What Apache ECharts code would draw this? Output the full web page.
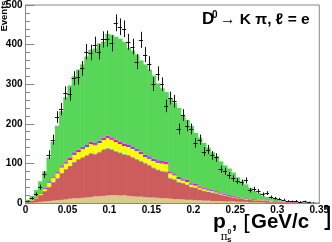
<!DOCTYPE html>
<html><head><meta charset="utf-8">
<script src="https://cdn.jsdelivr.net/npm/echarts@6/dist/echarts.min.js"></script>
<style>html,body{margin:0;padding:0;background:#fff}#c{width:332px;height:242px}</style>
</head><body><div id="c"></div>
<script>
const binWidth = 0.005;
const xTickLabels = ['0','0.05','0.1','0.15','0.2','0.25','0.3','0.35'];
const yTickLabels = ['0','100','200','300','400','500'];
const tan = [0,1,2,3,4,5,6,7,8,9, 11,12,12,13,14,15,17,17,18,19, 20,20,19,20,18,17,16,16,15,14, 14,13,12,12,11,10,10,9,8,8, 7,7,6,6,5,5,5,4,4,4, 3,3,3,2,2,2,2,1,1,1, 1,1,1,0,0,0,0,0,0,0];
const red = [2,5,10,17,26,35,46,55,67,76, 82,91,98,102,106,110,106,111,116,118, 115,110,107,102,102,98,94,89,85,81, 74,70,68,66,51,48,42,41,38,32, 31,27,24,22,21,19,16,14,12,10, 9,8,6,6,5,5,4,4,3,3, 2,2,1,2,1,1,1,0,0,0];
const cyan = [0,0,0,0,0,1,1,1,1,1, 1,1,1,1,2,2,2,2,2,2, 2,2,2,2,2,2,2,2,2,2, 2,2,2,2,2,2,1,1,1,1, 1,1,1,1,1,1,1,1,0,0, 0,0,0,0,0,0,0,0,0,0, 0,0,0,0,0,0,0,0,0,0];
const yellow = [1,1,2,3,5,10,10,12,14,14, 15,18,18,20,20,22,21,22,23,25, 23,22,21,20,20,20,19,17,14,15, 16,17,18,18,11,10,8,6,6,5, 5,3,4,3,3,2,2,1,1,1, 1,1,1,1,1,1,1,1,1,0, 0,1,0,1,0,1,0,0,0,0];
const blue = [0,0,1,1,1,1,1,2,2,2, 2,2,2,2,2,2,2,2,2,2, 2,2,2,2,2,2,2,2,2,2, 2,2,2,2,2,2,2,2,2,1, 1,1,1,1,1,1,1,1,1,1, 1,1,1,1,1,0,0,0,0,0, 0,0,0,0,0,0,0,0,0,0];
const magenta = [0,1,1,1,2,3,3,3,3,3, 4,4,4,4,4,4,4,4,4,4, 4,4,4,4,4,4,4,4,4,4, 4,4,4,4,3,3,3,3,3,3, 3,3,2,2,2,2,2,2,2,2, 2,1,1,1,1,1,1,1,1,1, 1,0,1,0,1,0,0,1,0,0];
const green = [5,10,17,30,42,60,88,115,137,162, 182,192,202,208,222,232,238,245,242,257, 259,260,260,257,244,242,238,230,228,219, 210,194,184,176,185,178,174,158,152,145, 129,123,114,105,95,88,78,72,67,59, 49,41,35,27,20,16,10,8,6,5, 3,1,1,0,1,0,1,0,1,0];
const dataCounts = [4,12,22,40,72,122,160,217,237,278, 275,315,317,340,382,380,400,382,413,415, 403,455,445,440,407,395,357,412,375,352, 300,327,300,245,265,257,187,222,195,187, 152,160,130,135,120,115,85,80,70,62, 55,52,57,32,35,30,22,25,15,12, 10,8,5,4,5,3,4,2,1,0];

const components = [
  {name:'tan', values: tan, color:'#d9c98d'},
  {name:'red', values: red, color:'#cd5c5c'},
  {name:'cyan', values: cyan, color:'#3fbfbf'},
  {name:'yellow', values: yellow, color:'#ffff00'},
  {name:'blue', values: blue, color:'#2828c8'},
  {name:'magenta', values: magenta, color:'#ff00ff'},
  {name:'green', values: green, color:'#58d658'}
];

const nBins = tan.length;
const base = new Array(nBins).fill(0);
const series = [];
components.forEach(c => {
  const d = c.values.map((v, i) => {
    const item = [i*binWidth, (i+1)*binWidth, base[i], base[i] + v];
    base[i] += v;
    return item;
  });
  series.push({
    type:'custom', name:c.name, silent:true, clip:true, animation:false,
    encode:{x:[0,1], y:[2,3]},
    data:d,
    renderItem:(params, api) => {
      if (api.value(3) <= api.value(2)) return null;
      const p0 = api.coord([api.value(0), api.value(2)]);
      const p1 = api.coord([api.value(1), api.value(3)]);
      return {type:'rect', shape:{x:p0[0], y:p1[1], width:p1[0]-p0[0]+0.6, height:p0[1]-p1[1]},
        style:{fill:c.color}};
    }
  });
});

const pts = [];
dataCounts.forEach((v, i) => { if (v > 0) pts.push([i*binWidth, (i+1)*binWidth, v, Math.sqrt(v)]); });
series.push({
  type:'custom', name:'data', silent:true, clip:true, animation:false, z:5,
  encode:{x:[0,1], y:2},
  data:pts,
  renderItem:(params, api) => {
    const lo = api.value(0), hi = api.value(1), v = api.value(2), e = api.value(3);
    const c = (lo+hi)/2;
    const pc = api.coord([c, v]);
    const pl = api.coord([lo, v]);
    const ph = api.coord([hi, v]);
    const pt = api.coord([c, v+e]);
    const pb = api.coord([c, Math.max(0, v-e)]);
    const xc = Math.round(pc[0]) + 0.5;
    const yc = Math.round(pc[1]) + 0.5;
    return {type:'group', children:[
      {type:'line', shape:{x1:xc, y1:pt[1], x2:xc, y2:pb[1]}, style:{stroke:'#111', lineWidth:1}},
      {type:'line', shape:{x1:pl[0], y1:yc, x2:ph[0], y2:yc}, style:{stroke:'#111', lineWidth:1}}
    ]};
  }
});

const F = 'Liberation Sans, Arial, Helvetica, sans-serif';
const chart = echarts.init(document.getElementById('c'), null, {renderer:'canvas'});
chart.setOption({
  animation:false,
  backgroundColor:'#fff',
  grid:{left:25.5, right:9, top:3, bottom:39, show:true, borderColor:'#888', borderWidth:1, backgroundColor:'transparent'},
  xAxis:{type:'value', min:0, max:0.35, interval:0.05,
    axisLine:{show:true, onZero:false, lineStyle:{color:'#888'}},
    axisTick:{show:false}, splitLine:{show:false},
    axisLabel:{color:'#000', fontFamily:F, fontWeight:'bold', fontSize:10, margin:2,
      formatter:(v)=> xTickLabels[Math.round(v/0.05)] }},
  yAxis:{type:'value', min:0, max:500, interval:100,
    axisLine:{show:true, lineStyle:{color:'#888'}},
    axisTick:{show:true, inside:true, length:9, lineStyle:{color:'#888'}},
    minorTick:{show:true, splitNumber:5, length:4.5, lineStyle:{color:'#888'}},
    splitLine:{show:false},
    axisLabel:{color:'#000', fontFamily:F, fontWeight:'bold', fontSize:10, margin:3,
      formatter:(v)=> yTickLabels[Math.round(v/100)] }},
  graphic:[
    {type:'text', x:4.5, y:16, rotation:Math.PI/2, style:{text:'Events', font:'bold 9.5px '+F, fill:'#000', textAlign:'center', textVerticalAlign:'middle'}},
    {type:'text', x:202, y:19, style:{text:'D', font:'bold 17px '+F, fill:'#000', textAlign:'left', textVerticalAlign:'middle'}},
    {type:'text', x:212, y:15, style:{text:'0', font:'bold 10px '+F, fill:'#000', textAlign:'left', textVerticalAlign:'middle'}},
    {type:'text', x:220, y:19.5, style:{text:'→ K π, ℓ = e', font:'bold 15.5px '+F, fill:'#000', textAlign:'left', textVerticalAlign:'middle'}},
    {type:'text', x:213, y:222.6, style:{text:'p', font:'bold 21px '+F, fill:'#000', textAlign:'left', textVerticalAlign:'middle'}},
    {type:'text', x:220.5, y:237, style:{text:'π', font:'11px DejaVu Serif, serif', fill:'#000', textAlign:'left', textVerticalAlign:'middle'}},
    {type:'text', x:227.5, y:232.5, style:{text:'0', font:'bold 7px '+F, fill:'#000', textAlign:'left', textVerticalAlign:'middle'}},
    {type:'text', x:227, y:240, style:{text:'s', font:'bold 8px '+F, fill:'#000', textAlign:'left', textVerticalAlign:'middle'}},
    {type:'text', x:232, y:223.5, style:{text:',', font:'bold 18px '+F, fill:'#000', textAlign:'left', textVerticalAlign:'middle'}},
    {type:'text', x:243, y:224, style:{text:'[', font:'22px DejaVu Sans, sans-serif', fill:'#000', textAlign:'left', textVerticalAlign:'middle'}},
    {type:'text', x:251, y:222.6, style:{text:'GeV/c', font:'bold 20.5px '+F, fill:'#000', textAlign:'left', textVerticalAlign:'middle'}},
    {type:'text', x:322, y:219, style:{text:']', font:'26px DejaVu Sans, sans-serif', fill:'#000', textAlign:'left', textVerticalAlign:'middle'}}
  ],
  series:series
});
</script></body></html>
